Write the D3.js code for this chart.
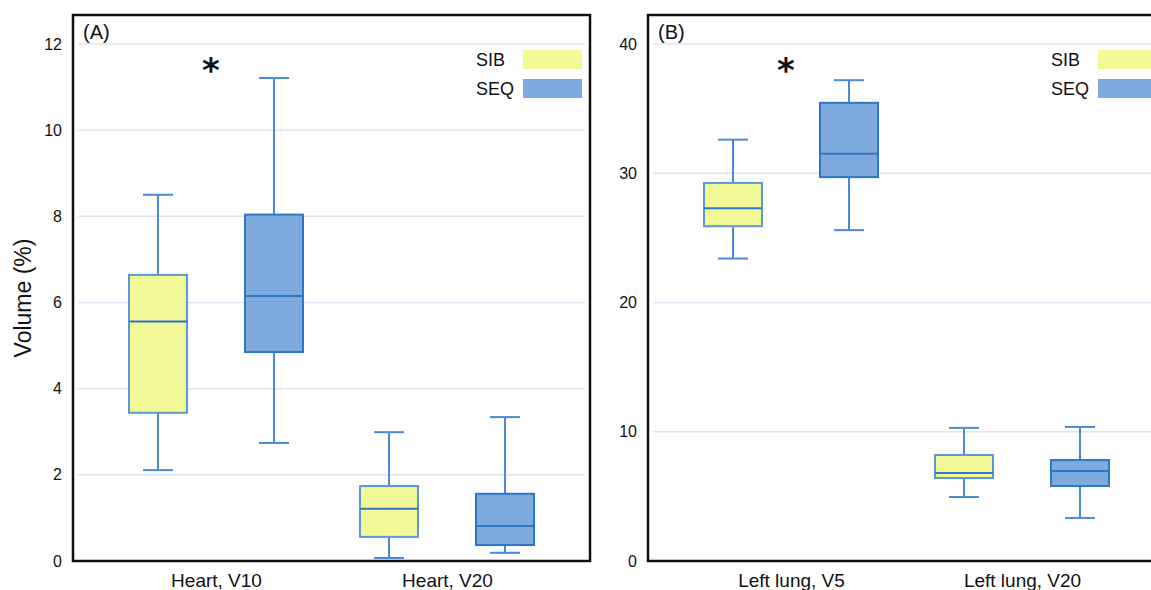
<!DOCTYPE html>
<html>
<head>
<meta charset="utf-8">
<script src="https://cdn.jsdelivr.net/npm/d3@7"></script>
<style>
  html, body { margin: 0; padding: 0; background: #fff; }
  svg { display: block; font-family: "Liberation Sans", Arial, sans-serif; }
</style>
</head>
<body>
<svg id="chart" width="1151" height="590"></svg>
<script>
// Dose-volume box plots: SIB vs SEQ, heart (A) and left lung (B)
const seriesNames = ["SIB", "SEQ"];
const seriesFill = ["#f3f996", "#7eaadd"];
const seriesStroke = ["#5b98d8", "#2f76c8"];

const heartCategories = ["Heart, V10", "Heart, V20"];
const lungCategories = ["Left lung, V5", "Left lung, V20"];

// [low whisker, Q1, median, Q3, high whisker] per category
const heartSIB = [[2.11, 3.44, 5.56, 6.64, 8.50], [0.07, 0.56, 1.21, 1.74, 2.99]];
const heartSEQ = [[2.74, 4.85, 6.15, 8.04, 11.21], [0.19, 0.37, 0.81, 1.56, 3.34]];
const lungSIB = [[23.4, 25.9, 27.3, 29.25, 32.6], [4.95, 6.42, 6.81, 8.2, 10.3]];
const lungSEQ = [[25.6, 29.7, 31.5, 35.45, 37.2], [3.33, 5.8, 6.96, 7.81, 10.37]];

const heartTicks = [0, 2, 4, 6, 8, 10, 12];
const lungTicks = [0, 10, 20, 30, 40];
const significant = ["Heart, V10", "Left lung, V5"];

const svg = d3.select("#chart");

function drawPanel(opt) {
  const { left, right, top, bottom, yMax, ticks, categories, data, label, yTitle } = opt;
  const g = svg.append("g");

  const y = d3.scaleLinear().domain([0, yMax]).range([bottom, 44]);
  const x = d3.scalePoint().domain(categories).range([left, right]).padding(0.619);
  const sub = d3.scaleBand().domain(seriesNames).range([-116, 116]);
  const boxW = sub.bandwidth() * 0.5;
  const capW = 30;

  // gridlines
  g.append("g").selectAll("line")
    .data(ticks.filter(t => t > 0))
    .join("line")
    .attr("x1", left + 5).attr("x2", right - 5)
    .attr("y1", d => y(d)).attr("y2", d => y(d))
    .attr("stroke", "#dbe5f3").attr("stroke-width", 1.5);

  // y axis labels
  const yAxis = g.append("g")
    .attr("transform", `translate(${left},0)`)
    .call(d3.axisLeft(y).tickValues(ticks).tickSize(0).tickPadding(11).tickFormat(d3.format("d")));
  yAxis.select(".domain").remove();
  yAxis.selectAll("text").attr("font-size", 16).attr("fill", "#111")
    .attr("font-family", "'Liberation Sans', Arial, sans-serif");

  // x axis labels
  const xAxis = g.append("g")
    .attr("transform", `translate(0,${bottom})`)
    .call(d3.axisBottom(x).tickSize(0).tickPadding(13));
  xAxis.select(".domain").remove();
  xAxis.selectAll("text").attr("font-size", 19).attr("fill", "#111")
    .attr("font-family", "'Liberation Sans', Arial, sans-serif");

  // boxes
  seriesNames.forEach((s, si) => {
    const rows = data[si].map((v, ci) => ({ cat: categories[ci], v }));
    const bg = g.append("g").selectAll("g").data(rows).join("g")
      .attr("transform", d => `translate(${x(d.cat) + sub(s) + sub.bandwidth() / 2},0)`);
    // whiskers
    bg.append("line").attr("x1", 0).attr("x2", 0)
      .attr("y1", d => y(d.v[3])).attr("y2", d => y(d.v[4]))
      .attr("stroke", "#4a8ad6").attr("stroke-width", 2);
    bg.append("line").attr("x1", 0).attr("x2", 0)
      .attr("y1", d => y(d.v[1])).attr("y2", d => y(d.v[0]))
      .attr("stroke", "#4a8ad6").attr("stroke-width", 2);
    bg.append("line").attr("x1", -capW / 2).attr("x2", capW / 2)
      .attr("y1", d => y(d.v[4])).attr("y2", d => y(d.v[4]))
      .attr("stroke", "#4a8ad6").attr("stroke-width", 2);
    bg.append("line").attr("x1", -capW / 2).attr("x2", capW / 2)
      .attr("y1", d => y(d.v[0])).attr("y2", d => y(d.v[0]))
      .attr("stroke", "#4a8ad6").attr("stroke-width", 2);
    // box
    bg.append("rect")
      .attr("x", -boxW / 2).attr("width", boxW)
      .attr("y", d => y(d.v[3])).attr("height", d => y(d.v[1]) - y(d.v[3]))
      .attr("fill", seriesFill[si]).attr("stroke", seriesStroke[si]).attr("stroke-width", 2);
    // median
    bg.append("line").attr("x1", -boxW / 2).attr("x2", boxW / 2)
      .attr("y1", d => y(d.v[2])).attr("y2", d => y(d.v[2]))
      .attr("stroke", "#2f76c8").attr("stroke-width", 2);
  });

  // significance markers
  g.append("g").selectAll("text")
    .data(categories.filter(c => significant.includes(c)))
    .join("text")
    .attr("x", d => x(d) - 5).attr("y", 82)
    .attr("text-anchor", "middle")
    .attr("font-family", "'DejaVu Sans', sans-serif")
    .attr("font-weight", "bold")
    .attr("font-size", 34).attr("fill", "#111")
    .text("*");

  // legend
  const lg = g.append("g").attr("transform", `translate(${right - 8},50)`);
  seriesNames.forEach((s, i) => {
    lg.append("rect").attr("x", -59).attr("y", i * 29).attr("width", 59).attr("height", 19)
      .attr("fill", seriesFill[i]);
    lg.append("text").attr("x", -106).attr("y", i * 29 + 16)
      .attr("font-size", 18).attr("fill", "#111").text(s);
  });

  // panel label
  g.append("text").attr("x", left + 10).attr("y", top + 24)
    .attr("font-size", 20).attr("fill", "#111").text(label);

  // frame
  g.append("rect").attr("x", left).attr("y", top)
    .attr("width", right - left).attr("height", bottom - top)
    .attr("fill", "none").attr("stroke", "#111").attr("stroke-width", 2.5);

  if (yTitle) {
    svg.append("text")
      .attr("transform", `translate(31,${(top + bottom) / 2 + 10}) rotate(-90)`)
      .attr("text-anchor", "middle")
      .attr("font-size", 23).attr("fill", "#111")
      .text(yTitle);
  }
}

drawPanel({
  left: 73, right: 590, top: 15, bottom: 561, yMax: 12,
  ticks: heartTicks, categories: heartCategories,
  data: [heartSIB, heartSEQ], label: "(A)", yTitle: "Volume (%)"
});
drawPanel({
  left: 648, right: 1165, top: 15, bottom: 561, yMax: 40,
  ticks: lungTicks, categories: lungCategories,
  data: [lungSIB, lungSEQ], label: "(B)"
});
</script>
</body>
</html>
